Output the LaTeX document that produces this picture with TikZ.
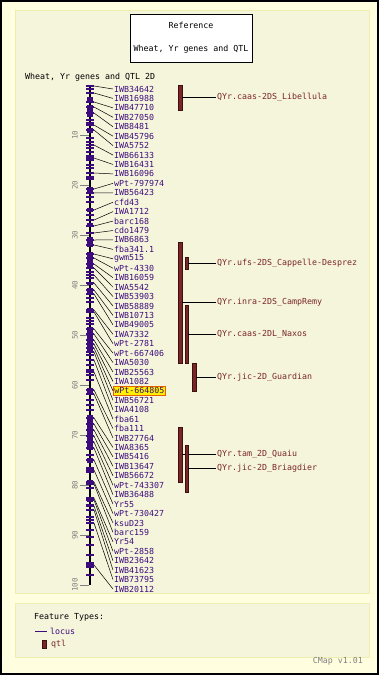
\documentclass[tikz,border=0pt]{standalone}
\usepackage{fontspec}
\setmonofont{DejaVu Sans Mono}
\usetikzlibrary{positioning}
\definecolor{cmapbg}{HTML}{FFFFE0}
\definecolor{panelbg}{HTML}{F5F5DC}
\definecolor{panelline}{HTML}{EEEEB0}
\definecolor{locuspurple}{HTML}{3C0C7C}
\definecolor{qtlred}{HTML}{7A2626}
\definecolor{qtldark}{HTML}{3A1010}
\definecolor{hiorange}{HTML}{E86000}
\newcommand\cmapfont{\ttfamily\fontsize{8.3}{9}\selectfont}

\begin{document}
\begin{tikzpicture}[
    x=1pt, y=-1pt,
    panel/.style={draw=panelline, fill=panelbg, line width=0.8pt},
    titlebox/.style={draw=black, fill=white, line width=0.6pt, minimum width=122pt,
        minimum height=48pt, align=center, font=\cmapfont, inner sep=0pt},
    lbl/.style={anchor=west, inner sep=1pt, font=\cmapfont, text=locuspurple},
    hilite/.style={lbl, fill=yellow, draw=hiorange, line width=0.6pt},
    qlbl/.style={anchor=west, inner sep=1pt, font=\cmapfont, text=qtlred},
    qtlbar/.style={rectangle, draw=qtldark, fill=qtlred, line width=0.4pt,
        minimum width=3.5pt, inner sep=0pt},
    lead/.style={black, line width=0.5pt},
    tick/.style={locuspurple, line width=1.3pt},
    scalelbl/.style={font=\ttfamily\fontsize{7.5}{8}\selectfont, text=gray, rotate=90, inner sep=0pt}
]
    \useasboundingbox (0,0) rectangle (379,675);
    \fill[cmapbg] (0,0) rectangle (379,675);
    \draw[black, line width=2pt] (1,1) rectangle (378,674);

    % panels
    \draw[panel] (15,10) rectangle (369,593);
    \draw[panel] (15,603) rectangle (369,657);

    % title
    \node[titlebox] (title) at (191,38) {Reference\\[14pt]Wheat, Yr genes and QTL};
    \node[anchor=west, inner sep=0pt, font=\cmapfont] (maptitle) at (25,77) {Wheat, Yr genes and QTL 2D};

    % chromosome and scale
    \coordinate (ctop) at (90,85);
    \coordinate (cbot) at (90,585);
    \draw[black, line width=2pt] (ctop) -- (cbot);
    \foreach \k in {10,20,...,100} {
        \draw[gray, line width=0.6pt] (80,85+5*\k) -- (89,85+5*\k);
        \node[scalelbl] (s\k) at (75,85+5*\k) {\k};
    }

    % dense locus blocks
    \foreach \a/\b in {2.4/3.4, 4/6.4, 8.6/9.6, 20.4/21.4, 24.6/25.4, 27.6/28.4, 30.4/32.4,
        33.4/36.6, 39.4/40, 40.6/42, 44.6/45.6, 48.4/53.4, 60.6/62, 66/73, 74.6/75.6,
        79/80, 82.4/83.4}
        \fill[locuspurple] (87,85+5*\a) rectangle (93,85+5*\b);
    \foreach \c in {0.2,0.8,1.6,7,7.6,10.6,11.4,12.6,13.4,14.2,15,16,16.6,17.6,18.4,18.8,
        22.4,23.4,26,37.4,38,38.6,42.6,43.4,46.6,47.2,47.8,54,55,56,57,58,59,63,64,65,74,
        76.6,77.4,80.6,84,85,86.4,87,87.6,89,90.4,92,94,95.6,96.4,98}
        \draw[tick] (86,85+5*\c) -- (94,85+5*\c);

    % loci and labels
    \foreach \i/\lname/\cm/\st in {1/IWB34642/0.2/lbl, 2/IWB16988/1.6/lbl, 3/IWB47710/3.4/lbl,
        4/IWB27050/4.4/lbl, 5/IWB8481/5.6/lbl, 6/IWB45796/8.0/lbl, 7/IWA5752/9.0/lbl,
        8/IWB66133/12.0/lbl, 9/IWB16431/14.6/lbl, 10/IWB16096/17.6/lbl, 11/wPt-797974/20.8/lbl,
        12/IWB56423/21.6/lbl, 13/cfd43/25.0/lbl, 14/IWA1712/27.0/lbl, 15/barc168/28.2/lbl,
        16/cdo1479/29.6/lbl, 17/IWB6863/31.0/lbl, 18/fba341.1/32.0/lbl, 19/gwm515/33.8/lbl,
        20/wPt-4330/34.6/lbl, 21/IWB16059/35.8/lbl, 22/IWA5542/36.6/lbl, 23/IWB53903/38.0/lbl,
        24/IWB58889/39.6/lbl, 25/IWB10713/41.0/lbl, 26/IWB49005/41.8/lbl, 27/IWA7332/45.0/lbl,
        28/wPt-2781/45.4/lbl, 29/wPt-667406/48.8/lbl, 30/IWA5030/49.8/lbl, 31/IWB25563/51.0/lbl,
        32/IWA1082/51.8/lbl, 33/wPt-664805/52.6/hilite, 34/IWB56721/53.4/lbl, 35/IWA4108/55.0/lbl,
        36/fba61/57.4/lbl, 37/fba111/61.0/lbl, 38/IWB27764/61.8/lbl, 39/IWA8365/66.6/lbl,
        40/IWB5416/67.8/lbl, 41/IWB13647/69.0/lbl, 42/IWB56672/70.2/lbl, 43/wPt-743307/71.4/lbl,
        44/IWB36488/72.6/lbl, 45/Yr55/75.0/lbl, 46/wPt-730427/77.0/lbl, 47/ksuD23/79.4/lbl,
        48/barc159/79.8/lbl, 49/Yr54/82.6/lbl, 50/wPt-2858/83.0/lbl, 51/IWB23642/84.2/lbl,
        52/IWB41623/85.0/lbl, 53/IWB73795/87.6/lbl, 54/IWB20112/96.0/lbl} {
        \pgfmathsetmacro{\ylab}{89+(\i-1)*9.434}
        \pgfmathsetmacro{\ypos}{85+5*\cm}
        \draw[tick] (86,\ypos) -- (94,\ypos);
        \coordinate (p\i) at (94,\ypos);
        \node[\st] (l\i) at (113,\ylab) {\lname};
        \draw[lead] (p\i) -- (l\i.west);
    }

    % QTL bars
    \foreach \q/\x/\top/\bot/\qname in {1/180/85/110/QYr.caas-2DS\_Libellula,
        2/180/242/363/QYr.inra-2DS\_CampRemy, 3/186.5/257/269/QYr.ufs-2DS\_Cappelle-Desprez,
        4/186.5/305/363/QYr.caas-2DL\_Naxos, 5/194/363/391/QYr.jic-2D\_Guardian,
        6/180/427/482/QYr.tam\_2D\_Quaiu, 7/186.5/445/492/QYr.jic-2D\_Briagdier} {
        \pgfmathsetmacro{\qh}{\bot-\top}
        \pgfmathsetmacro{\qm}{(\bot+\top)/2}
        \node[qtlbar, minimum height=\qh pt] (q\q) at (\x,\qm) {};
        \node[qlbl] (ql\q) at (216,\qm) {\qname};
        \draw[lead] (q\q.east) -- (ql\q.west);
    }

    % legend
    \node[anchor=west, inner sep=0pt, font=\cmapfont] (ftypes) at (34,617) {Feature Types:};
    \coordinate (lg1) at (35,631);
    \coordinate (lg2) at (47,631);
    \draw[locuspurple, line width=1pt] (lg1) -- (lg2);
    \node[lbl, right=2pt of lg2] (lglocus) {locus};
    \node[qtlbar, minimum height=8pt] (lgq) at (44,644) {};
    \node[qlbl, right=4pt of lgq] (lgqtl) {qtl};
    \node[anchor=east, inner sep=0pt, font=\cmapfont, text=gray] (ver) at (363,661) {CMap v1.01};
\end{tikzpicture}
\end{document}
